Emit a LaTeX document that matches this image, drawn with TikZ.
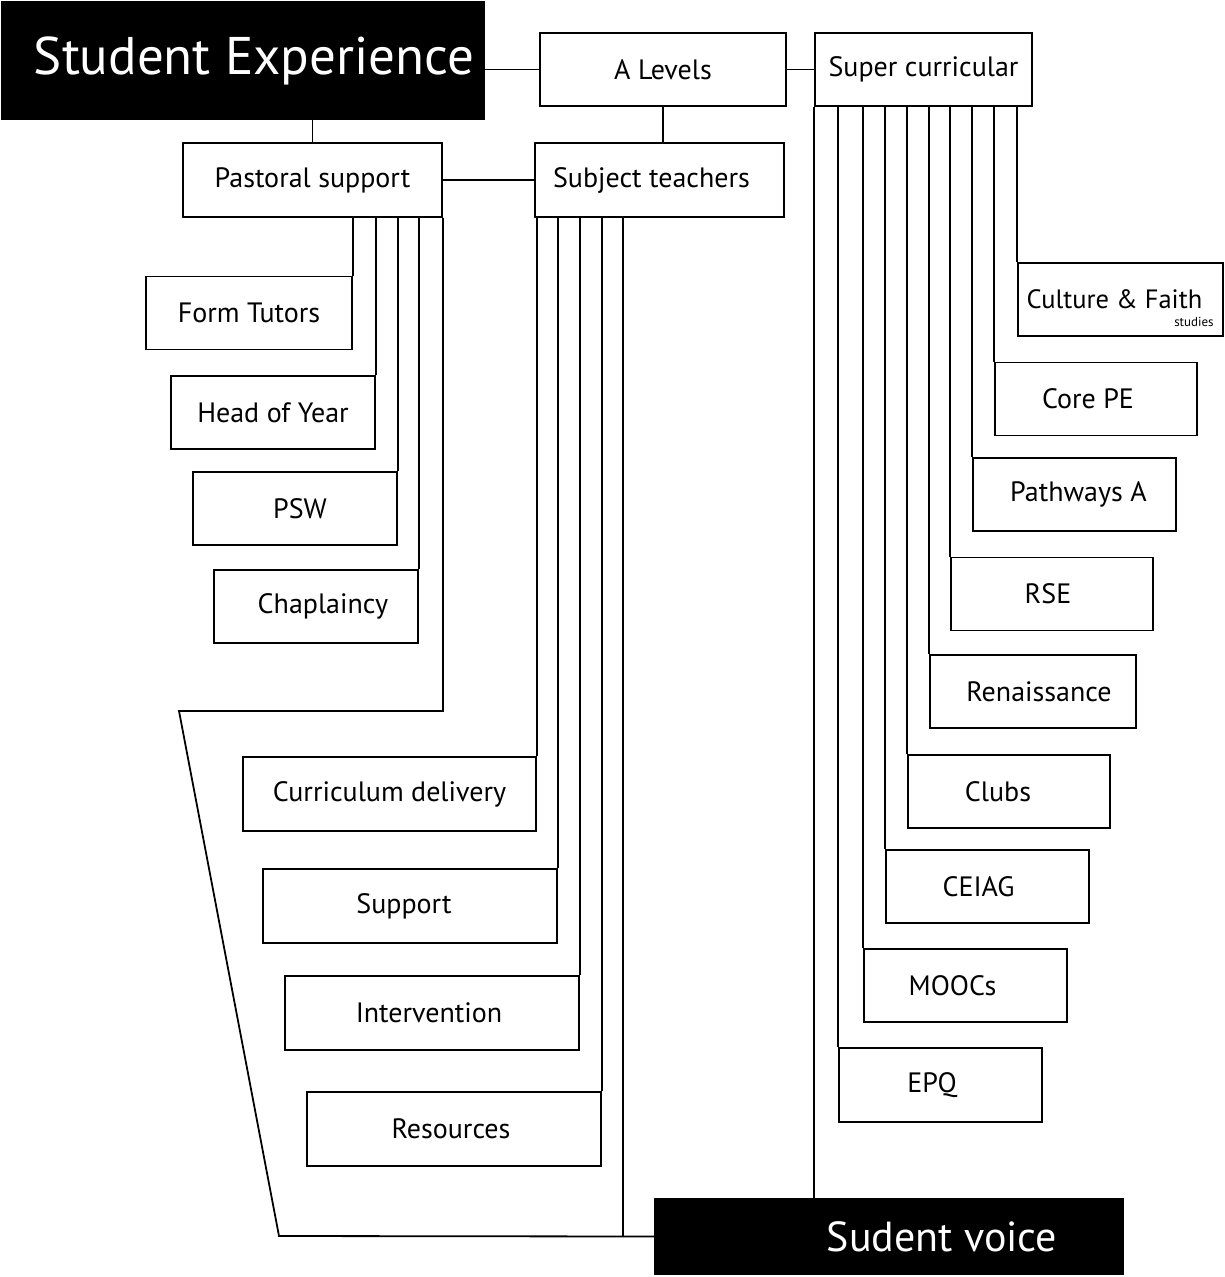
\documentclass[tikz,border=0pt]{standalone}
\usepackage{fontspec}
\setmainfont{PT Sans}
\tikzset{
  box/.style={draw, line width=1.8pt, fill=white, minimum width=203pt, minimum height=73pt, inner sep=0pt, font=\fontsize{28}{32}\selectfont},
  blackbox/.style={draw, line width=1.8pt, fill=black, text=white, inner sep=0pt},
  link/.style={line width=1.8pt}
}
\begin{document}
\begin{tikzpicture}[x=1pt,y=-1pt]
            \useasboundingbox (0,0) rectangle (1225,1277);
            % top row
            \node at (243,60.5) [blackbox, minimum width=482pt, minimum height=117pt, font=\fontsize{53}{58}\selectfont] (sexp) {\hspace*{22pt}Student Experience};
            \node at (663,69.5) [box, minimum width=246pt] (alev) {A Levels};
            \node at (923.5,69.5) [box, minimum width=217pt] (super) {Super curricular};
            \node at (312.5,180) [box, minimum width=259pt, minimum height=74pt] (past) {Pastoral support};
            \node at (659.5,180) [box, minimum width=249pt, minimum height=74pt] (subj) {Subject teachers\hspace*{16pt}};
            \draw[link] (alev.west) -- (alev.west -| sexp.east);
            \draw[link] (alev.east) -- (super.west);
            \draw[link] (past.north) -- (past.north |- sexp.south);
            \draw[link] (alev.south) -- (alev.south |- subj.north);
            \draw[link] (past.east) -- (subj.west);
            % pastoral
            \node at (249,313) [box, minimum width=206pt] (form) {Form Tutors};
            \node at (273,412.5) [box, minimum width=204pt] (hoy) {Head of Year};
            \node at (295,508.5) [box, minimum width=204pt] (psw) {\hspace*{10pt}PSW};
            \node at (316,606.5) [box, minimum width=204pt] (chap) {\hspace*{14pt}Chaplaincy};
            \foreach \n in {form,hoy,psw,chap}
                \draw[link] (\n.north east) -- (\n.north east |- past.south);
            % subject teachers
            \node at (389.5,794) [box, minimum width=293pt, minimum height=74pt] (curr) {Curriculum delivery};
            \node at (410,906) [box, minimum width=294pt, minimum height=74pt] (supp) {Support\hspace*{12pt}};
            \node at (432,1013) [box, minimum width=294pt, minimum height=74pt] (interv) {Intervention\hspace*{6pt}};
            \node at (454,1129) [box, minimum width=294pt, minimum height=74pt] (res) {Resources\hspace*{6pt}};
            \foreach \n in {curr,supp,interv,res}
                \draw[link] (\n.north east) -- (\n.north east |- subj.south);
            % super curricular
            \node at (1120.5,299.5) [box, minimum width=205pt, font=\fontsize{26.5}{30}\selectfont, label={[font=\fontsize{13}{14}\selectfont, anchor=south east, inner sep=0pt, xshift=-10pt, yshift=10pt]south east:studies}] (cult) {Culture \& Faith\hspace*{12pt}};
            \node at (1096,399) [box, minimum width=202pt] (core) {Core PE\hspace*{16pt}};
            \node at (1074.5,494.5) [box] (path) {\hspace*{8pt}Pathways A};
            \node at (1052,594) [box, minimum width=202pt] (rse) {RSE\hspace*{8pt}};
            \node at (1033,691.5) [box, minimum width=206pt] (ren) {\hspace*{12pt}Renaissance};
            \node at (1009,791.5) [box, minimum width=202pt] (clubs) {Clubs\hspace*{22pt}};
            \node at (987.5,886.5) [box] (ceiag) {CEIAG\hspace*{18pt}};
            \node at (965.5,985.5) [box] (moocs) {MOOCs\hspace*{26pt}};
            \node at (940.5,1085) [box, minimum height=74pt] (epq) {EPQ\hspace*{17pt}};
            \foreach \n in {cult,core,path,rse,ren,clubs,ceiag,moocs,epq}
                \draw[link] (\n.north west) -- (\n.north west |- super.south);
            % student voice
            \node at (889,1236.5) [blackbox, minimum width=468pt, minimum height=75pt, font=\fontsize{42}{46}\selectfont] (voice) {\hspace*{106pt}Sudent voice};
            \draw[link] (super.south west) -- (super.south west |- voice.north);
            \coordinate (pl) at (179,711);
            \coordinate (pb) at (279,1236);
            \coordinate (sj) at (623,1236);
            \draw[link] (past.south east) |- (pl) -- (pb) -- (voice.west);
            \draw[link] (sj) -- (sj |- subj.south);
        \end{tikzpicture}
\end{document}
